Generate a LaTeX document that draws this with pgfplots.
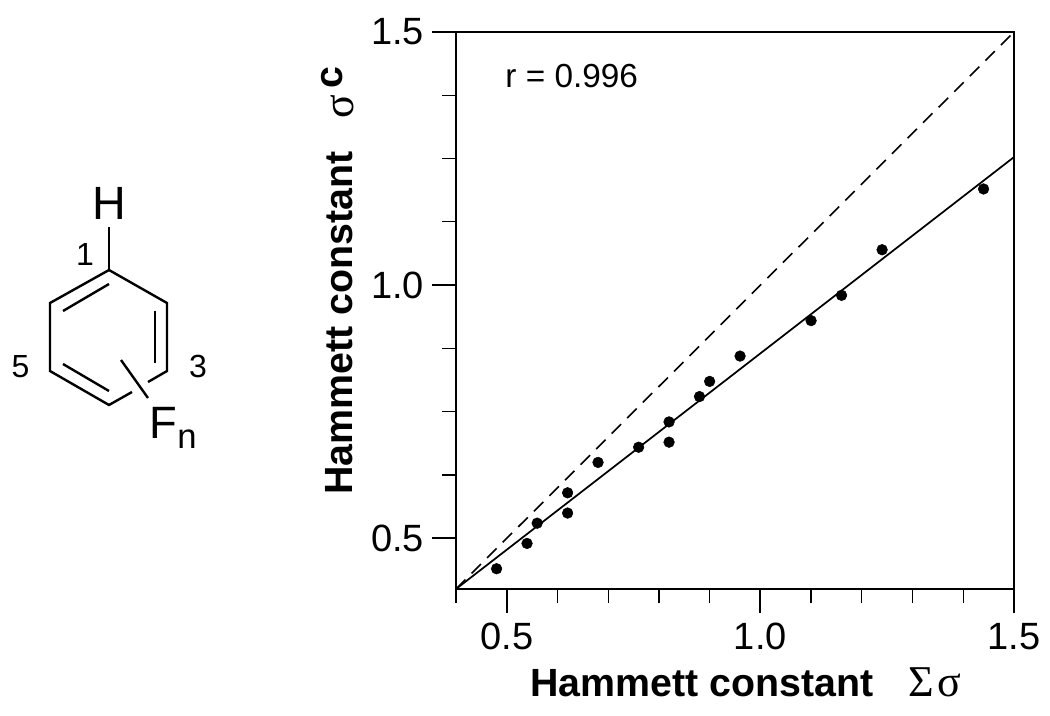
\documentclass[border=0pt]{standalone}
\usepackage{fontspec}
\setmainfont{Liberation Sans}
\newfontfamily\greekfont{Liberation Serif}
\usepackage{pgfplots}
\pgfplotsset{compat=1.18}
\newcommand{\labelsize}{\fontsize{29.5}{32}\selectfont}
\newcommand{\greeksize}{\fontsize{33}{36}\selectfont}
\newcommand{\ticksize}{\fontsize{28.5}{31}\selectfont}
\begin{document}
\begin{tikzpicture}
\begin{axis}[
  at={(342pt,-441.75pt)}, anchor=south west,
  scale only axis, width=418.5pt, height=417.75pt,
  xmin=0.4, xmax=1.5, ymin=0.4, ymax=1.5,
  xtick={0.5,1.0,1.5}, ytick={0.5,1.0,1.5},
  minor xtick={0.4,0.6,0.7,0.8,0.9,1.1,1.2,1.3,1.4},
  minor ytick={0.625,0.75,0.875,1.125,1.25,1.375},
  xticklabels={0.5,1.0,1.5}, yticklabels={0.5,1.0,1.5},
  tick align=outside, tick pos=left,
  major tick length=18pt, minor tick length=10.5pt,
  every major tick/.style={black,line width=1.4pt},
  every minor tick/.style={black,line width=0.9pt},
  axis line style={line width=1.5pt},
  tick label style={font=\ticksize},
  /pgf/number format/assume math mode=true,
  xticklabel style={yshift=-4pt}, yticklabel style={xshift=-2.5pt},
]
\addplot[black,line width=1.2pt,dash pattern=on 10pt off 6.5pt] coordinates {(0.4,0.4)(1.5,1.5)};
\addplot[black,line width=1.3pt] coordinates {(0.4,0.4)(1.5,1.253)};
\addplot[only marks,mark=*,mark size=4pt,black] coordinates {
(0.48,0.44)(0.54,0.49)(0.56,0.53)(0.62,0.59)(0.62,0.55)(0.68,0.65)(0.76,0.68)
(0.82,0.73)(0.82,0.69)(0.88,0.78)(0.90,0.81)(0.96,0.86)(1.10,0.93)(1.16,0.98)
(1.24,1.07)(1.44,1.19)};
\node[anchor=base west,inner sep=0pt,font=\fontsize{25}{28}\selectfont] at (axis cs:0.497,1.39) {r = 0.996};
\end{axis}
\begin{scope}[x=0.75pt,y=-0.75pt,line cap=butt]
\path[use as bounding box] (0,0) rectangle (1050,715);
% axis titles
\node[anchor=base west,inner sep=0pt,font=\labelsize\bfseries] at (530,696) {Hammett constant};
\node[anchor=base west,inner sep=0pt,font=\greeksize\greekfont] at (908,696) {Σ\kern3ptσ};
\node[anchor=base west,inner sep=0pt,rotate=90,font=\labelsize\bfseries] at (352,495) {Hammett constant};
\node[anchor=base west,inner sep=0pt,rotate=90,font=\greeksize\greekfont] at (353,119) {σ};
\node[anchor=base west,inner sep=0pt,rotate=90,font=\labelsize\bfseries] at (342,89) {c};
% benzene ring
\begin{scope}[line width=1.8pt,line join=miter]
\draw (109,227) -- (109,270);
\draw (109,270) -- (50,303) -- (50,371) -- (109,405) -- (132,392);
\draw (109,270) -- (167,303) -- (167,371) -- (148,382);
\draw (63,311) -- (109,284);
\draw (155,311) -- (155,363);
\draw (63,364) -- (109,391);
\draw (121,360) -- (148,398);
\end{scope}
\node[anchor=base,inner sep=0pt,font=\fontsize{35}{38}\selectfont] at (109,219) {H};
\node[anchor=base,inner sep=0pt,font=\fontsize{24}{26}\selectfont] at (85,265) {1};
\node[anchor=base,inner sep=0pt,font=\fontsize{24}{26}\selectfont] at (20.5,377) {5};
\node[anchor=base,inner sep=0pt,font=\fontsize{24}{26}\selectfont] at (198,377) {3};
\node[anchor=base west,inner sep=0pt,font=\fontsize{34}{36}\selectfont] at (149,438) {F};
\node[anchor=base west,inner sep=0pt,font=\fontsize{26}{28}\selectfont] at (177,448) {n};
\end{scope}
\end{tikzpicture}
\end{document}
